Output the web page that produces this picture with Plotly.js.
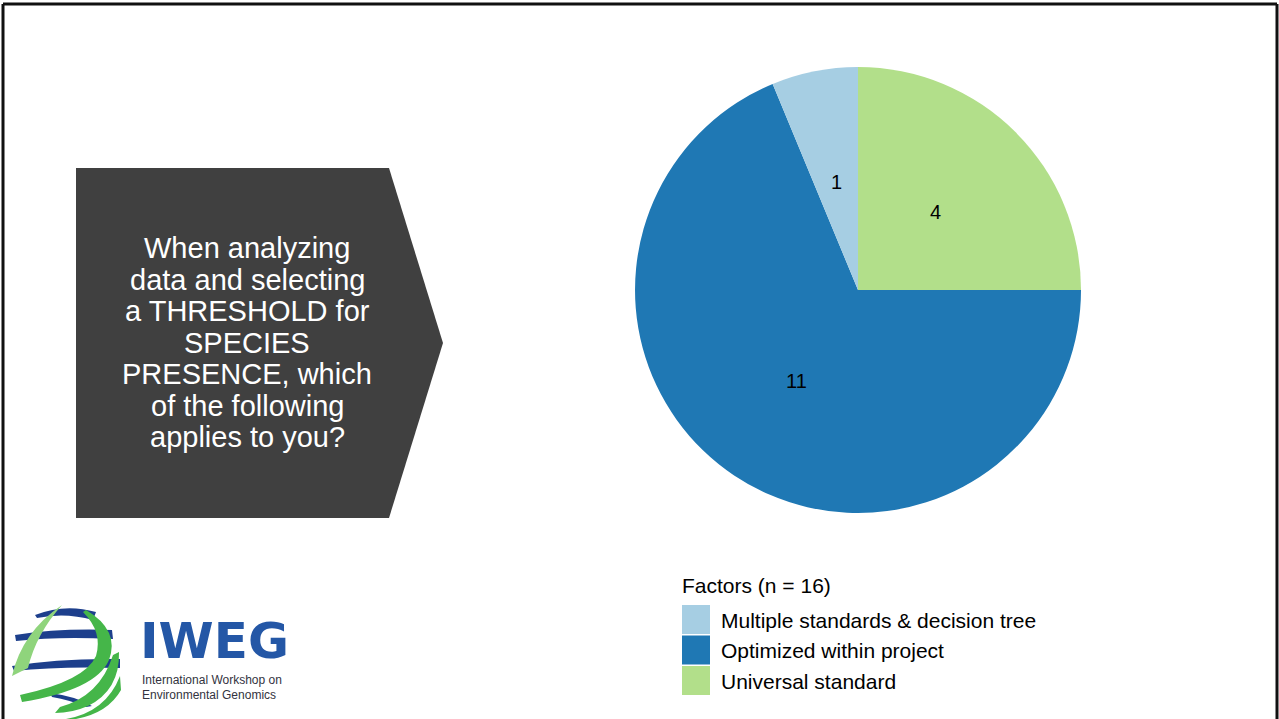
<!DOCTYPE html>
<html>
<head>
<meta charset="utf-8">
<script src="https://cdn.plot.ly/plotly-3.0.1.min.js"></script>
<style>
  html, body { margin: 0; padding: 0; background: #ffffff; }
  #chart { width: 1279px; height: 719px; }
</style>
</head>
<body>
<div id="chart"></div>
<script>
// ---- data ----
const categories = ["Multiple standards & decision tree", "Optimized within project", "Universal standard"];
const counts = [1, 11, 4];
const sliceColors = ["#a6cee3", "#1f78b4", "#b2df8a"];
const legendTitle = "Factors (n = 16)";
const questionLines = ["When analyzing", "data and selecting", "a THRESHOLD for", "SPECIES", "PRESENCE, which", "of the following", "applies to you?"];

const FONT = "Liberation Sans, Arial, sans-serif";
const W = 1279, H = 719;
const pieDomain = { x: [0.4965, 0.8452], y: [0.2865, 0.9068] };

// slices run counter-clockwise from 12 o'clock in legend order;
// drawn clockwise with the order reversed
const pie = {
  type: "pie",
  labels: categories.slice().reverse(),
  values: counts.slice().reverse(),
  marker: { colors: sliceColors.slice().reverse(), line: { width: 0 } },
  sort: false,
  direction: "clockwise",
  rotation: 0,
  textinfo: "none",
  hoverinfo: "label+value",
  showlegend: false,
  domain: pieDomain
};

const shapes = [];
const annotations = [];

// slice value labels, placed along each slice's mid-angle (counter-clockwise from 12 o'clock)
(function () {
  const cx = W * (pieDomain.x[0] + pieDomain.x[1]) / 2;
  const cy = H * (1 - (pieDomain.y[0] + pieDomain.y[1]) / 2);
  const R = Math.min(W * (pieDomain.x[1] - pieDomain.x[0]), H * (pieDomain.y[1] - pieDomain.y[0])) / 2;
  const total = counts.reduce((a, b) => a + b, 0);
  let cum = 0;
  counts.forEach((v) => {
    const mid = -2 * Math.PI * (cum + v / 2) / total;
    cum += v;
    const r = 0.493 * R;
    annotations.push({ x: cx + r * Math.sin(mid), y: cy - r * Math.cos(mid), xref: "x", yref: "y",
      text: String(v), showarrow: false, xanchor: "center", yanchor: "middle",
      font: { family: FONT, size: 20, color: "#000000" } });
  });
})();

// slide border (top, left, right)
shapes.push({ type: "line", x0: 3, y0: 4, x1: 1277, y1: 4, line: { color: "#111", width: 3 } });
shapes.push({ type: "line", x0: 3, y0: 4, x1: 3, y1: 719, line: { color: "#111", width: 3 } });
shapes.push({ type: "line", x0: 1277, y0: 4, x1: 1277, y1: 719, line: { color: "#111", width: 3 } });

// question arrow box
shapes.push({ type: "path", path: "M76,168 L389,168 L443,343 L389,518 L76,518 Z",
  fillcolor: "#404040", line: { width: 0 }, layer: "below" });
questionLines.forEach((t, i) => {
  annotations.push({ x: 247, y: 248 + i * 31.5, xref: "x", yref: "y", text: t, showarrow: false,
    xanchor: "center", yanchor: "middle", font: { family: FONT, size: 29, color: "#ffffff" } });
});

// custom legend
annotations.push({ x: 680, y: 585, xref: "x", yref: "y", text: legendTitle, showarrow: false,
  xanchor: "left", yanchor: "middle", font: { family: FONT, size: 21, color: "#000" } });
categories.forEach((c, i) => {
  const y0 = 605 + i * 30.5;
  shapes.push({ type: "rect", x0: 682, x1: 710, y0: y0, y1: y0 + 29, fillcolor: sliceColors[i], line: { width: 0 } });
  annotations.push({ x: 719, y: y0 + 15, xref: "x", yref: "y", text: c, showarrow: false,
    xanchor: "left", yanchor: "middle", font: { family: FONT, size: 21, color: "#000" } });
});

// IWEG logo (decorative)
const blue = "#1d3f8c", green1 = "#45b649", green2 = "#8fd47c";
const logoPaths = [
  ["M35,615 Q65,603 96,612 L93,620 Q65,612 37,618 Z", blue],
  ["M15,635 Q60,628 112,630 L113,639 Q60,636 16,641 Z", blue],
  ["M12,666 Q60,658 120,659 L120,668 Q60,666 14,671 Z", blue],
  ["M50,693 Q75,696 92,706 L86,707 Q70,700 52,697 Z", blue],
  ["M12,676 Q22,632 62,605 Q36,634 28,668 Z", green2],
  ["M86,610 Q120,630 109,660 Q96,690 22,702 L20,695 Q85,681 96,656 Q103,632 83,612 Z", green1],
  ["M119,652 Q120,690 88,706 Q72,713 55,713 L60,707 Q100,696 113,655 Z", green1],
  ["M66,719 Q106,712 120,676 L121,690 Q108,713 76,719 Z", green1]
];
logoPaths.forEach(([p, col]) => shapes.push({ type: "path", path: p, fillcolor: col, line: { width: 0 } }));

annotations.push({ x: 138, y: 641, xref: "x", yref: "y", text: "<b>IWEG</b>", showarrow: false,
  xanchor: "left", yanchor: "middle", font: { family: "DejaVu Sans, sans-serif", size: 50, color: "#2457a6" } });
annotations.push({ x: 140, y: 680, xref: "x", yref: "y", text: "International Workshop on", showarrow: false,
  xanchor: "left", yanchor: "middle", font: { family: FONT, size: 12, color: "#333340" } });
annotations.push({ x: 140, y: 695, xref: "x", yref: "y", text: "Environmental Genomics", showarrow: false,
  xanchor: "left", yanchor: "middle", font: { family: FONT, size: 12, color: "#333340" } });

const layout = {
  width: W, height: H,
  margin: { l: 0, r: 0, t: 0, b: 0 },
  paper_bgcolor: "#ffffff", plot_bgcolor: "rgba(0,0,0,0)",
  showlegend: false,
  xaxis: { range: [0, W], visible: false, fixedrange: true, domain: [0, 1] },
  yaxis: { range: [H, 0], visible: false, fixedrange: true, domain: [0, 1] },
  shapes: shapes,
  annotations: annotations
};

Plotly.newPlot("chart", [pie], layout, { displayModeBar: false, staticPlot: true });
</script>
</body>
</html>
